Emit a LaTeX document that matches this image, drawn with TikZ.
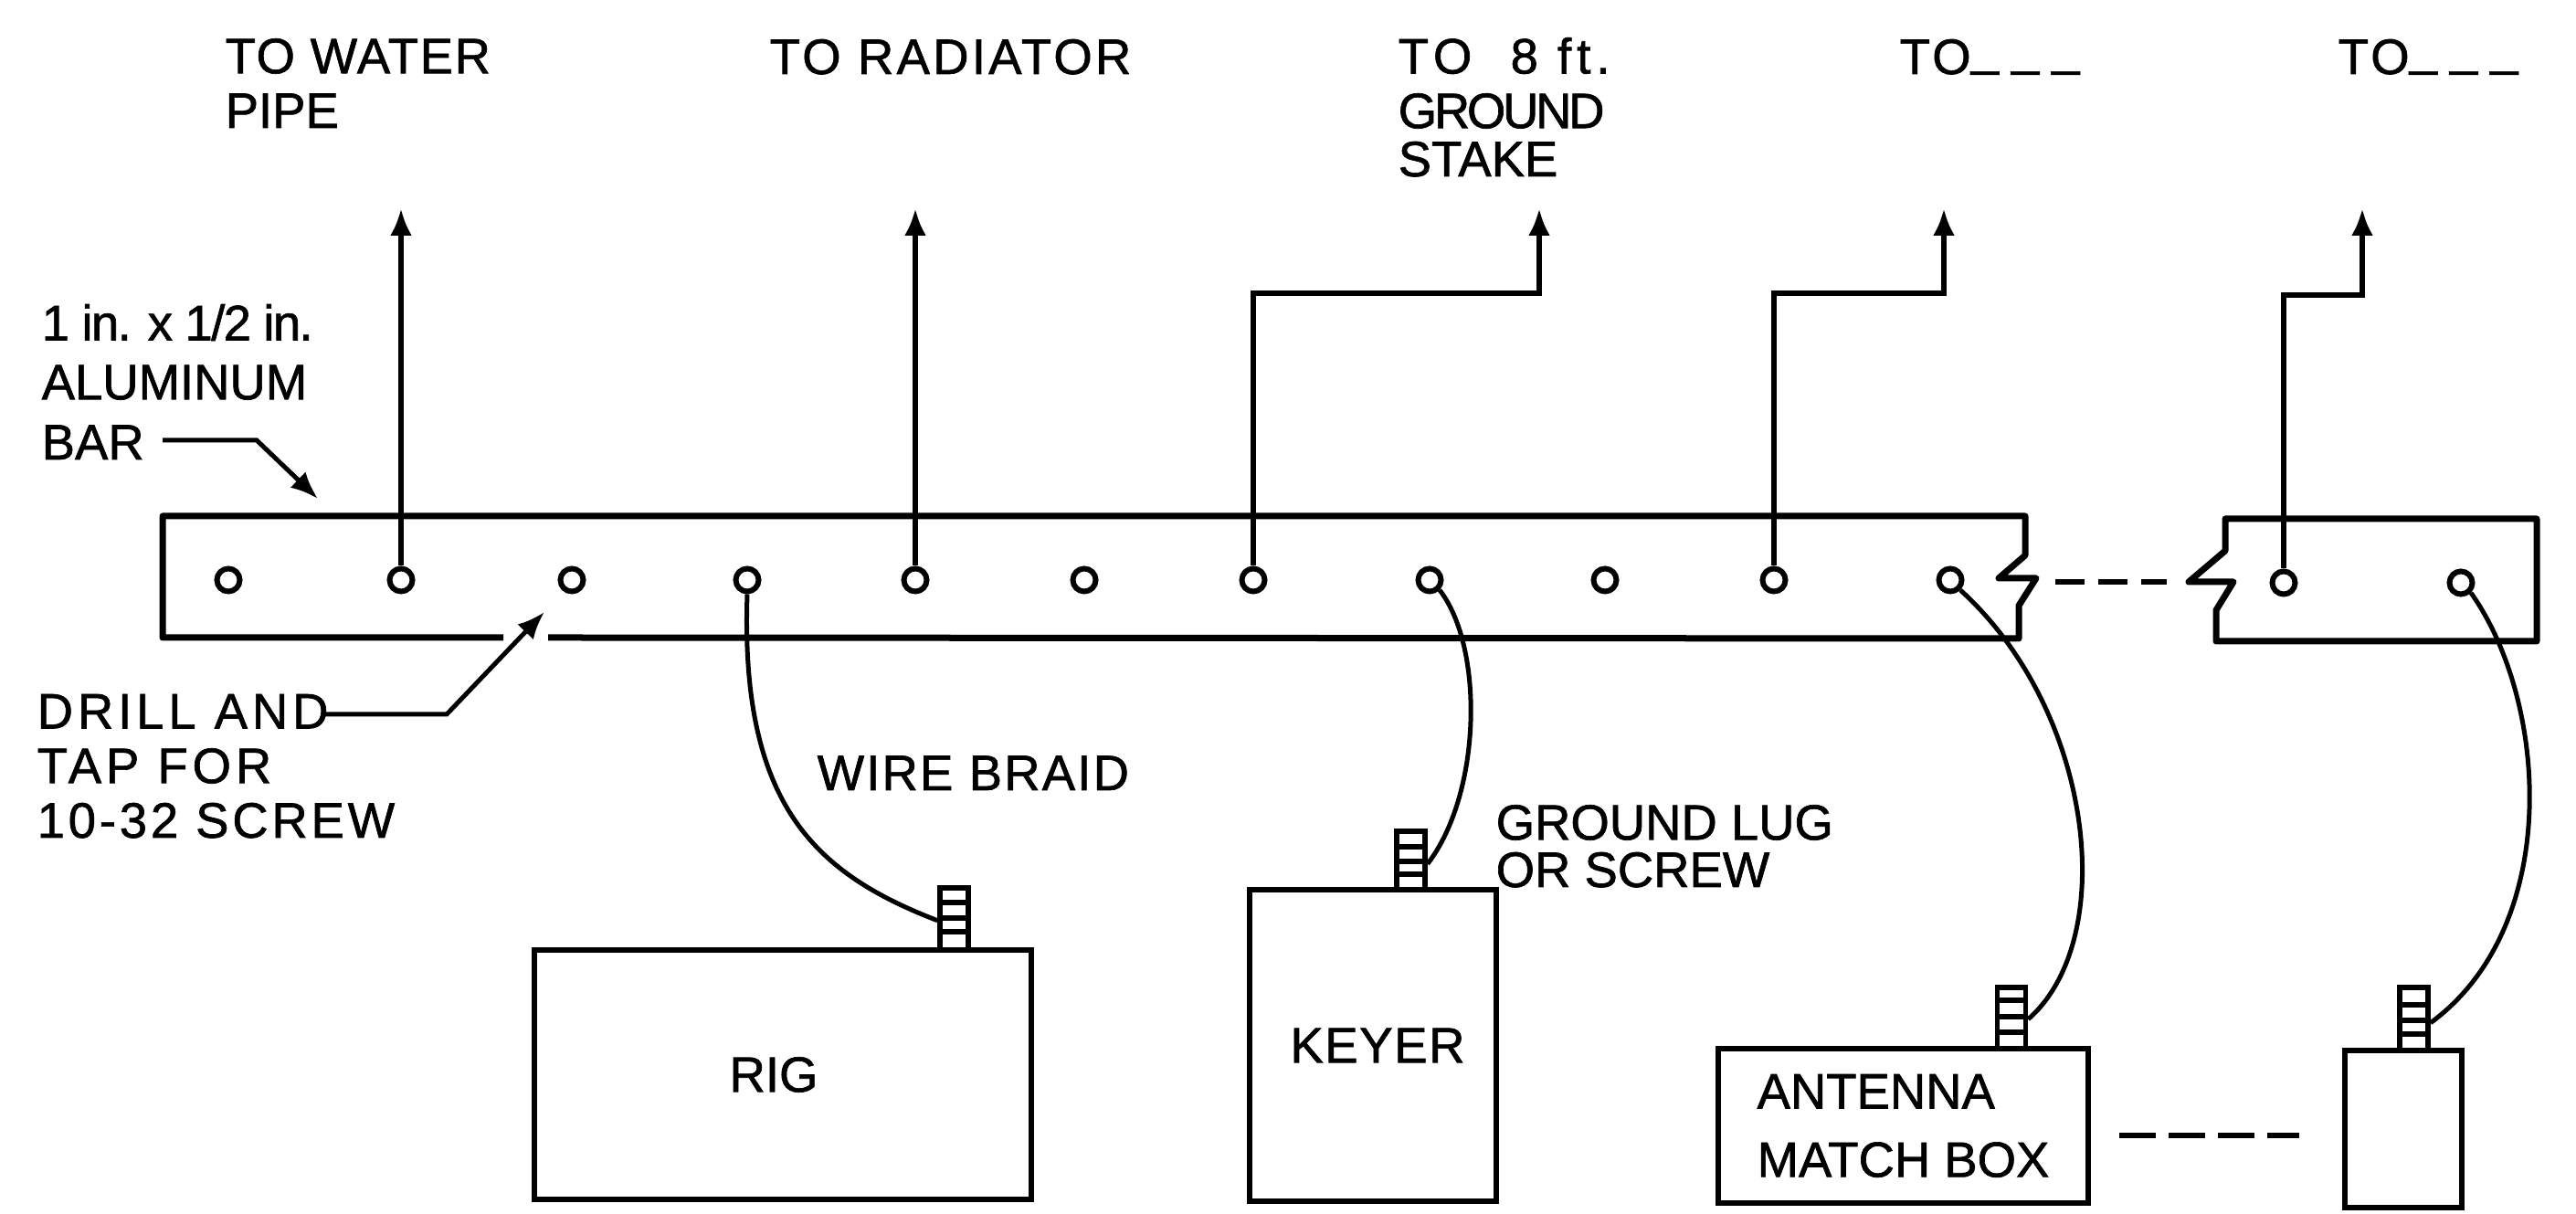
\documentclass[tikz,border=0pt]{standalone}
\usepackage{fontspec}
\setmainfont{Liberation Sans}[FakeBold=1.2]
\usetikzlibrary{arrows.meta}
\newcommand{\blankdash}{\raisebox{0.1cm}{\_}\hspace{0.14cm}}
\newcommand{\widetext}[1]{\addfontfeature{LetterSpace=#1}}

\begin{document}
\begin{tikzpicture}[>={Latex[length=0.30cm,width=0.24cm]},
  barline/.style={draw=black, line width=0.07cm, line join=round},
  hole/.style={draw=black, line width=0.06cm, fill=white, circle, inner sep=0pt, minimum size=0.25cm},
  box/.style={draw=black, line width=0.065cm, fill=white, inner sep=0pt, font=\fontsize{15.5}{21.3}\selectfont},
  lugseg/.style={draw=black, line width=0.055cm, fill=white, inner sep=0pt, minimum width=0.31cm},
  lead/.style={draw=black, line width=0.06cm},
  wire/.style={draw=black, line width=0.05cm},
  callout/.style={draw=black, line width=0.05cm},
  gapdash/.style={draw=black, line width=0.06cm},
  caption/.style={inner sep=0pt, anchor=base west, align=left, font=\fontsize{15.5}{17}\selectfont}]
\useasboundingbox (0,0) rectangle (28.2,13.29);
\draw [barline] (5.51,6.31) -- (1.78,6.31) -- (1.78,7.64) -- (22.17,7.64) -- (22.17,7.21) -- (21.88,6.96) -- (22.29,6.96) -- (22.10,6.66) -- (22.10,6.30) -- (6.00,6.31);
\draw [barline] (24.36,7.61) -- (27.77,7.61) -- (27.77,6.27) -- (24.26,6.27) -- (24.26,6.61) -- (24.45,6.92) -- (23.96,6.92) -- (24.36,7.26) -- cycle;
\node[hole] (H1) at (2.50, 6.94) {};
\node[hole] (H2) at (4.39, 6.94) {};
\node[hole] (H3) at (6.26, 6.94) {};
\node[hole] (H4) at (8.18, 6.94) {};
\node[hole] (H5) at (10.02, 6.94) {};
\node[hole] (H6) at (11.87, 6.94) {};
\node[hole] (H7) at (13.72, 6.94) {};
\node[hole] (H8) at (15.65, 6.94) {};
\node[hole] (H9) at (17.57, 6.94) {};
\node[hole] (H10) at (19.42, 6.94) {};
\node[hole] (H11) at (21.35, 6.94) {};
\node[hole] (H12) at (25.00, 6.91) {};
\node[hole] (H13) at (26.94, 6.91) {};
\node[box, minimum width=5.44cm, minimum height=2.73cm] (Rig) at (8.57, 1.525) {RIG\kern0.2cm\relax};
\node[box, minimum width=2.70cm, minimum height=3.41cm] (Keyer) at (15.03, 1.845) {\kern0.1cm\relax\widetext{3}KEYER};
\node[box, align=left, minimum width=4.05cm, minimum height=1.69cm] (Match) at (20.835, 0.965) {ANTENNA\\MATCH BOX};
\node[box, minimum width=1.28cm, minimum height=1.72cm] (Spare) at (26.31, 0.93) {};
\node[lugseg, minimum height=0.16cm] (LugA1) at (10.445, 3.49) {};
\node[lugseg, minimum height=0.17cm] (LugA2) at (10.445, 3.325) {};
\node[lugseg, minimum height=0.15cm] (LugA3) at (10.445, 3.165) {};
\node[lugseg, minimum height=0.20cm] (LugA4) at (10.445, 2.99) {};
\node[lugseg, minimum height=0.17cm] (LugB1) at (15.445, 4.105) {};
\node[lugseg, minimum height=0.16cm] (LugB2) at (15.445, 3.94) {};
\node[lugseg, minimum height=0.14cm] (LugB3) at (15.445, 3.79) {};
\node[lugseg, minimum height=0.17cm] (LugB4) at (15.445, 3.635) {};
\node[lugseg, minimum height=0.14cm] (LugC1) at (22.02, 2.41) {};
\node[lugseg, minimum height=0.18cm] (LugC2) at (22.02, 2.25) {};
\node[lugseg, minimum height=0.17cm] (LugC3) at (22.02, 2.075) {};
\node[lugseg, minimum height=0.18cm] (LugC4) at (22.02, 1.90) {};
\node[lugseg, minimum height=0.19cm] (LugD1) at (26.425, 2.385) {};
\node[lugseg, minimum height=0.17cm] (LugD2) at (26.425, 2.205) {};
\node[lugseg, minimum height=0.15cm] (LugD3) at (26.425, 2.045) {};
\node[lugseg, minimum height=0.18cm] (LugD4) at (26.425, 1.88) {};
\coordinate (TipA) at (4.39, 11.01);
\coordinate (TipB) at (10.02, 11.01);
\coordinate (JogC) at (16.85, 10.08);
\coordinate (TipC) at (16.85, 11.01);
\coordinate (JogD) at (21.28, 10.08);
\coordinate (TipD) at (21.28, 11.01);
\coordinate (JogE) at (25.86, 10.06);
\coordinate (TipE) at (25.86, 11.01);
\coordinate (BarTail) at (1.78, 8.47);
\coordinate (BarBend) at (2.81, 8.47);
\coordinate (BarTip) at (3.48, 7.83);
\coordinate (DrillTail) at (3.54, 5.47);
\coordinate (DrillBend) at (4.89, 5.47);
\coordinate (DrillTip) at (5.96, 6.59);
\coordinate (BreakA) at (22.50, 6.92);
\coordinate (BreakB) at (23.72, 6.92);
\coordinate (BoxGapA) at (23.20, 0.86);
\coordinate (BoxGapB) at (25.17, 0.86);
\draw [lead, ->] (H2.north) -- (TipA) ;
\draw [lead, ->] (H5.north) -- (TipB) ;
\draw [lead, ->] (H7.north) |- (JogC) -- (TipC) ;
\draw [lead, ->] (H10.north) |- (JogD) -- (TipD) ;
\draw [lead, ->] (H12.north) |- (JogE) -- (TipE) ;
\draw [wire] (H4.south) .. controls (8.1,4.45) and (8.95,3.72) .. (LugA2.south west) ;
\draw [wire] (H8.south east) .. controls (16.25,6.2) and (16.22,4.6) .. (LugB2.south east) ;
\draw [wire] (H11.south east) .. controls (22.93,5.5) and (23.2,3.0) .. (LugC2.south east) ;
\draw [wire] (H13.south east) .. controls (27.9,5.6) and (28.05,3.15) .. (LugD2.south east) ;
\draw [callout, ->] (BarTail) -- (BarBend) -- (BarTip) ;
\draw [callout, ->] (DrillTail) -- (DrillBend) -- (DrillTip) ;
\draw [gapdash, dash pattern=on 0.32cm off 0.15cm] (BreakA) -- (BreakB) ;
\draw [gapdash, dash pattern=on 0.40cm off 0.14cm] (BoxGapA) -- (BoxGapB) ;
\node[caption] (CapWater) at (2.46, 11.89) {\widetext{3}TO WATER\\PIPE};
\node[caption] (CapRadiator) at (8.42, 12.48) {\widetext{6}TO RADIATOR};
\node[caption] (CapStake) at (15.30, 11.36) {{\widetext{11}TO\ \ 8 ft.}\\{\widetext{-6}GROUND}\\[-0.07cm]STAKE};
\node[caption] (CapFree) at (20.79, 12.48) {\widetext{6}TO\blankdash\blankdash\blankdash};
\node[caption] (CapLast) at (25.59, 12.48) {\widetext{6}TO\blankdash\blankdash\blankdash};
\node[caption] (CapBar) at (0.45, 8.26) {{\widetext{-3}1 in. x 1/2 in.}\\[0.05cm]ALUMINUM\\[0.06cm]BAR};
\node[caption] (CapDrill) at (0.40, 4.12) {{\widetext{9}DRILL AND}\\{\widetext{9}TAP FOR}\\{\widetext{7}10-32 SCREW}};
\node[caption] (CapBraid) at (8.94, 4.64) {\widetext{4}WIRE BRAID};
\node[caption] (CapLug) at (16.37, 3.58) {GROUND LUG\\[-0.08cm]OR SCREW};
\end{tikzpicture}
\end{document}
